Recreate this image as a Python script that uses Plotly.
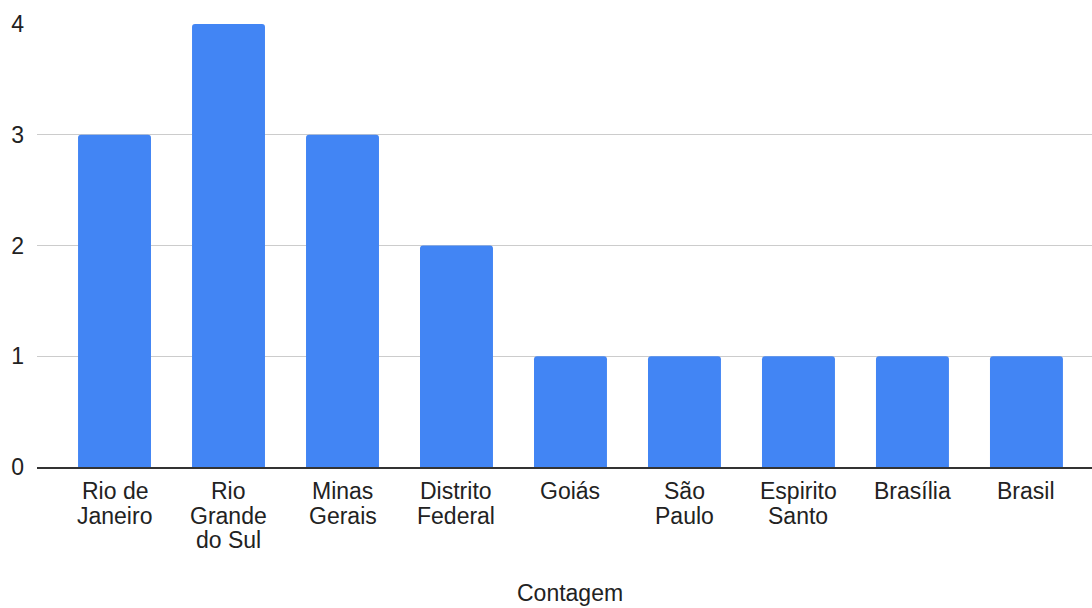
import plotly.graph_objects as go

categories = ["Rio de<br>Janeiro", "Rio<br>Grande<br>do Sul", "Minas<br>Gerais", "Distrito<br>Federal",
              "Goiás", "São<br>Paulo", "Espirito<br>Santo", "Brasília", "Brasil"]
values = [3, 4, 3, 2, 1, 1, 1, 1, 1]
y_ticks = [0, 1, 2, 3, 4]
x_title = "Contagem"

font = "Liberation Sans, Arial, sans-serif"
FS = 23
TXT = "#222222"

fig = go.Figure(go.Bar(
    x=categories, y=values,
    marker=dict(color="#4285F4", cornerradius=3, line=dict(width=0)),
    hoverinfo="y",
))

# tick labels as annotations, to get the tight line spacing of the original
annotations = []
for cat in categories:
    for i, line in enumerate(cat.split("<br>")):
        annotations.append(dict(
            x=cat, y=0, xref="x", yref="y", text=line, showarrow=False,
            xanchor="center", yanchor="middle", yshift=-(24 + 24.5 * i),
            font=dict(family=font, size=FS, color=TXT),
        ))
annotations.append(dict(
    x=4, y=0, xref="x", yref="paper", text=x_title, showarrow=False,
    xanchor="center", yanchor="bottom", yshift=-141,
    font=dict(family=font, size=FS, color=TXT),
))

fig.update_layout(
    width=1092, height=608,
    margin=dict(l=37, r=0, t=24, b=141),
    plot_bgcolor="white", paper_bgcolor="white",
    bargap=0.36,
    showlegend=False,
    font=dict(family=font, size=FS, color=TXT),
    annotations=annotations,
    xaxis=dict(
        type="category",
        range=[-0.68, 8.575],
        showgrid=False,
        showline=True, linecolor="#333333", linewidth=1.5,
        ticks="", showticklabels=False,
    ),
    yaxis=dict(
        range=[0, 4],
        tickvals=y_ticks,
        showgrid=True, gridcolor="#cccccc", gridwidth=1,
        zeroline=False, showline=False,
        ticks="", ticklabelstandoff=12,
        tickfont=dict(size=FS, color=TXT),
    ),
)

fig.write_html("out.html")
